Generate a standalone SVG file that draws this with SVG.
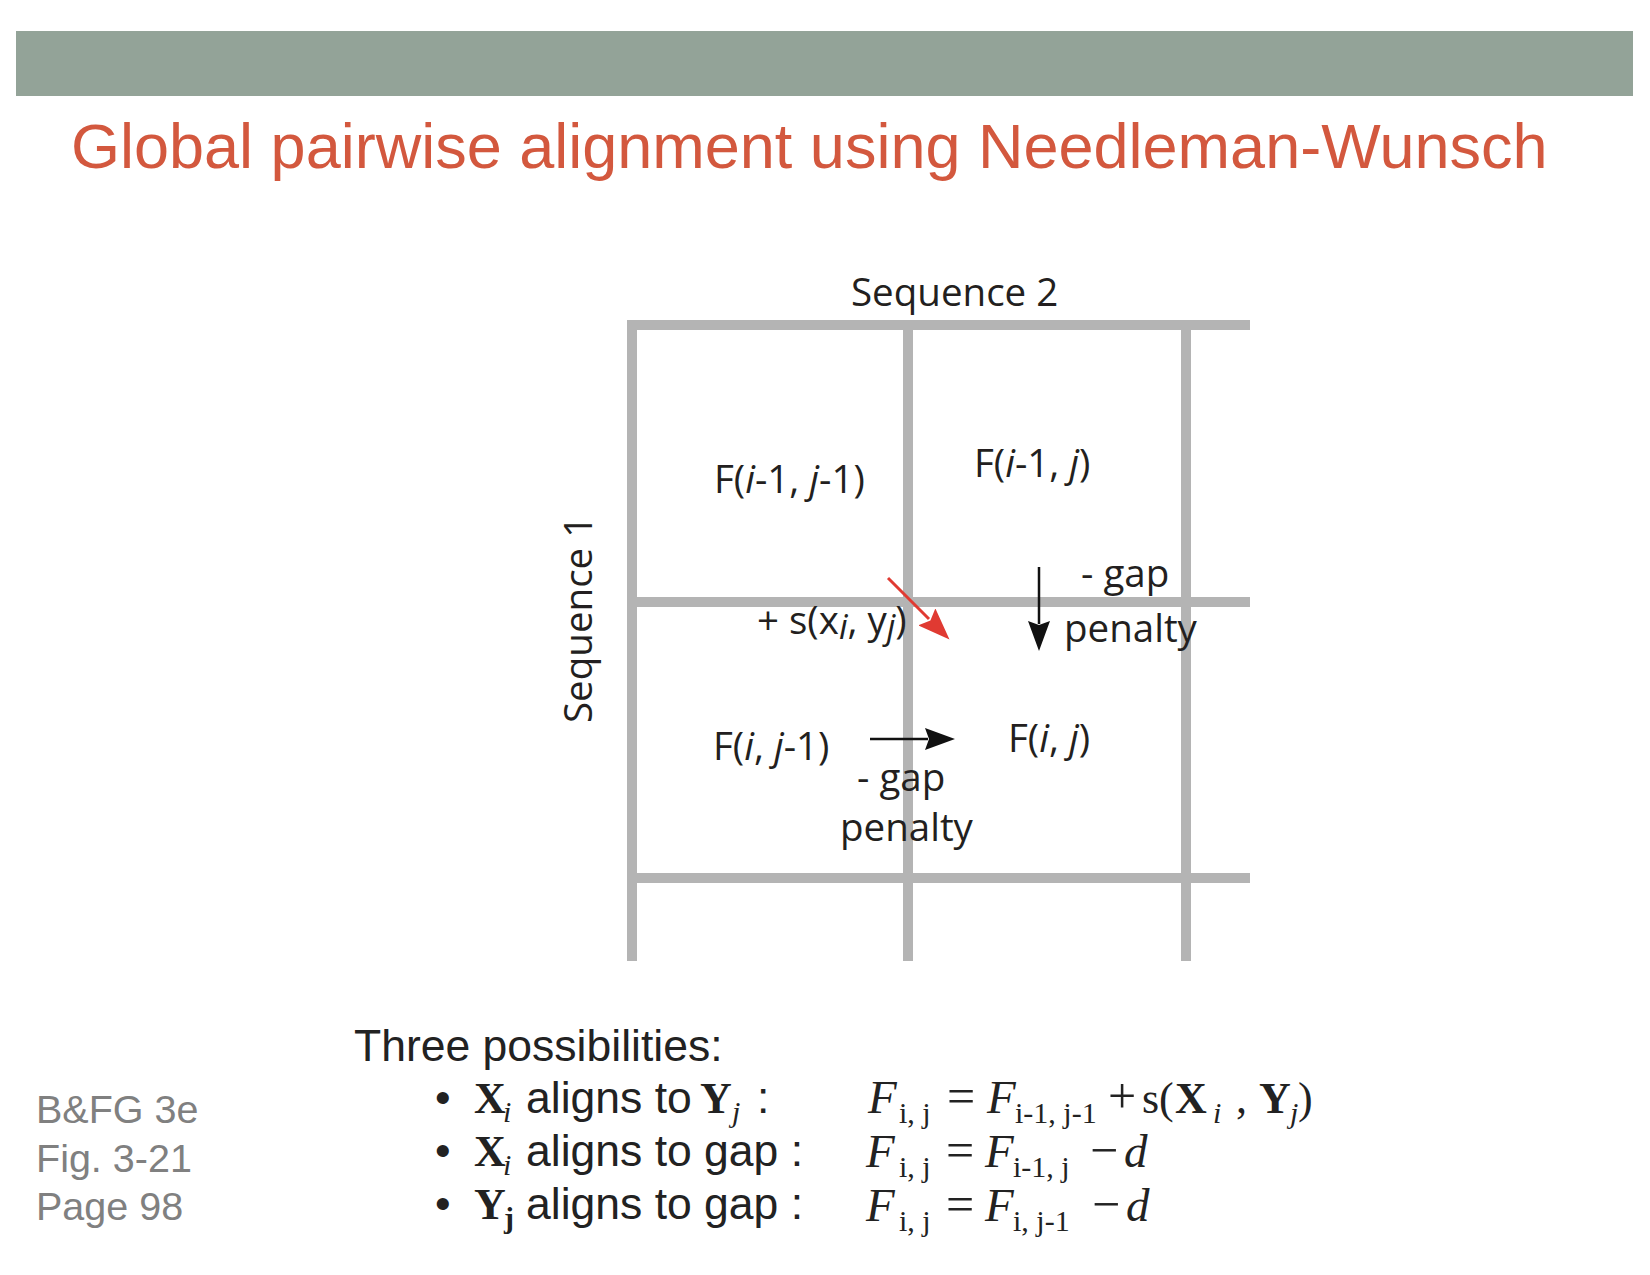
<svg xmlns="http://www.w3.org/2000/svg" width="1650" height="1275" viewBox="0 0 1650 1275">
<style>
.grid line{stroke:#b4b4b4;stroke-width:10}
.lbl{font-family:"Open Sans","DejaVu Sans",sans-serif;font-size:38.5px;fill:#231f20}
.it{font-style:italic}
.body{font-family:"Liberation Sans",Arial,sans-serif;font-size:44.5px;fill:#222222}
.math{font-family:"Liberation Serif","Times New Roman",serif;font-size:44px;fill:#222222}
.big{font-size:47px}
.op{font-size:50px}
.sub{font-size:30px}
.b{font-weight:bold}
.src{font-family:"Liberation Sans",Arial,sans-serif;font-size:39.5px;fill:#808080}
.arrow{stroke:#111111;stroke-width:2.5;fill:none}
.arrow.red{stroke:#e03a32;stroke-width:3}
</style>
<defs>
<marker id="headBlack" viewBox="0 0 30 22" refX="3" refY="11" markerWidth="30" markerHeight="22" markerUnits="userSpaceOnUse" orient="auto">
<path d="M0,0 L30,11 L0,22 L4,11 Z" fill="#111111"/>
</marker>
<marker id="headRed" viewBox="0 0 32 24" refX="3" refY="12" markerWidth="32" markerHeight="24" markerUnits="userSpaceOnUse" orient="auto">
<path d="M0,0 L32,12 L0,24 L5,12 Z" fill="#e03a32"/>
</marker>
</defs>
<rect width="1650" height="1275" fill="#ffffff"/>
<g id="header">
<rect x="16" y="31" width="1617" height="65" fill="#93a398"/>
</g>
<g id="title">
<text x="71" y="168" font-family="'Liberation Sans',Arial,sans-serif" font-size="63" fill="#d3583e">Global pairwise alignment using Needleman-Wunsch</text>
</g>
<g id="grid" class="grid">
<line x1="627" y1="325" x2="1250" y2="325"/>
<line x1="627" y1="602" x2="1250" y2="602"/>
<line x1="627" y1="878" x2="1250" y2="878"/>
<line x1="632" y1="320" x2="632" y2="961"/>
<line x1="908" y1="320" x2="908" y2="961"/>
<line x1="1186" y1="320" x2="1186" y2="961"/>
</g>
<g id="seq2"><text class="lbl" x="851" y="306">Sequence 2</text></g>
<g id="seq1"><text class="lbl" transform="translate(592,723) rotate(-90)" x="0" y="0">Sequence 1</text></g>
<g id="cell-i1-j1"><text class="lbl" x="714" y="493">F(<tspan class="it">i</tspan>-1, <tspan class="it">j</tspan>-1)</text></g>
<g id="cell-i1-j"><text class="lbl" x="974" y="477">F(<tspan class="it">i</tspan>-1, <tspan class="it">j</tspan>)</text></g>
<g id="cell-i-j1"><text class="lbl" x="713" y="760">F(<tspan class="it">i</tspan>, <tspan class="it">j</tspan>-1)</text></g>
<g id="cell-i-j"><text class="lbl" x="1008" y="752">F(<tspan class="it">i</tspan>, <tspan class="it">j</tspan>)</text></g>
<g id="connectors">
<line class="arrow red" x1="888" y1="578" x2="929" y2="619" marker-end="url(#headRed)"/>
<line class="arrow" x1="1039" y1="567" x2="1039" y2="624" marker-end="url(#headBlack)"/>
<line class="arrow" x1="870" y1="739" x2="928" y2="739" marker-end="url(#headBlack)"/>
</g>
<g id="label-diag"><text class="lbl" x="757" y="634">+ s(x<tspan class="it" font-size="34" dy="5">i</tspan><tspan dy="-5">, y</tspan><tspan class="it" font-size="34" dy="5">j</tspan><tspan dy="-5">)</tspan></text></g>
<g id="label-down">
<text class="lbl" x="1081" y="587">- gap</text>
<text class="lbl" x="1064" y="642">penalty</text>
</g>
<g id="label-right">
<text class="lbl" x="857" y="791">- gap</text>
<text class="lbl" x="840" y="841">penalty</text>
</g>
<g id="source">
<text class="src" x="36" y="1123">B&amp;FG 3e</text>
<text class="src" x="36" y="1172">Fig. 3-21</text>
<text class="src" x="36" y="1220">Page 98</text>
</g>
<g id="possibilities">
<text class="body" x="354" y="1061">Three possibilities:</text>
<text class="body"><tspan x="435" y="1113">•</tspan><tspan class="math b" x="474" y="1113">X</tspan><tspan class="math it sub" x="503" y="1122">i</tspan><tspan x="526" y="1113">aligns to</tspan><tspan class="math b" x="700" y="1113">Y</tspan><tspan class="math it sub" x="732" y="1122">j</tspan><tspan x="757" y="1113">:</tspan></text>
<text class="body"><tspan x="435" y="1166">•</tspan><tspan class="math b" x="474" y="1166">X</tspan><tspan class="math it sub" x="503" y="1175">i</tspan><tspan x="526" y="1166">aligns to gap :</tspan></text>
<text class="body"><tspan x="435" y="1219">•</tspan><tspan class="math b" x="474" y="1219">Y</tspan><tspan class="math b sub" x="504" y="1228">j</tspan><tspan x="526" y="1219">aligns to gap :</tspan></text>
</g>
<g id="formulas" class="math">
<text class="math"><tspan class="it big" x="868" y="1113">F</tspan><tspan class="sub" x="899" y="1123">i, j</tspan><tspan class="op" x="947" y="1113">=</tspan><tspan class="it big" x="987" y="1113">F</tspan><tspan class="sub" x="1015" y="1123">i-1, j-1</tspan><tspan class="op" x="1108" y="1113">+</tspan><tspan x="1142" y="1113">s(</tspan><tspan class="b" x="1175" y="1113">X</tspan><tspan class="sub it" x="1213" y="1123">i</tspan><tspan x="1236" y="1113">,</tspan><tspan class="b" x="1259" y="1113">Y</tspan><tspan class="sub it" x="1290" y="1123">j</tspan><tspan x="1298" y="1113">)</tspan></text>
<text class="math"><tspan class="it big" x="866" y="1167">F</tspan><tspan class="sub" x="899" y="1177">i, j</tspan><tspan class="op" x="946" y="1167">=</tspan><tspan class="it big" x="985" y="1167">F</tspan><tspan class="sub" x="1013" y="1177">i-1, j</tspan><tspan class="op" x="1090" y="1167">−</tspan><tspan class="it big" x="1124" y="1167">d</tspan></text>
<text class="math"><tspan class="it big" x="866" y="1221">F</tspan><tspan class="sub" x="899" y="1231">i, j</tspan><tspan class="op" x="946" y="1221">=</tspan><tspan class="it big" x="985" y="1221">F</tspan><tspan class="sub" x="1013" y="1231">i, j-1</tspan><tspan class="op" x="1092" y="1221">−</tspan><tspan class="it big" x="1126" y="1221">d</tspan></text>
</g>
</svg>
